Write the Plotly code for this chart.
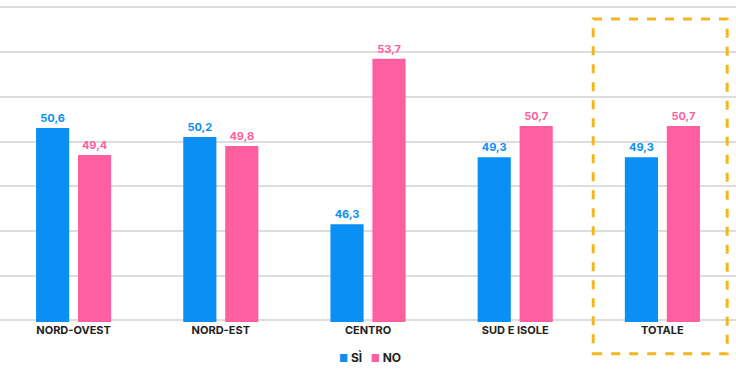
import plotly.graph_objects as go

categories = ["NORD-OVEST", "NORD-EST", "CENTRO", "SUD E ISOLE", "TOTALE"]
si_values = [50.6, 50.2, 46.3, 49.3, 49.3]
no_values = [49.4, 49.8, 53.7, 50.7, 50.7]
series_names = ["SÌ", "NO"]
grid_values = [42, 44, 46, 48, 50, 52, 54, 56]

BLUE = "#0A90F5"
PINK = "#FF5FA0"
FONT = "Inter"

fig = go.Figure()
fig.add_trace(go.Bar(
    x=categories, y=si_values, name=series_names[0],
    marker=dict(color=BLUE, line=dict(width=0)),
    texttemplate="%{y:.1f}", textposition="outside",
    textfont=dict(color=BLUE, size=11, family=FONT, weight="bold"),
    cliponaxis=False,
))
fig.add_trace(go.Bar(
    x=categories, y=no_values, name=series_names[1],
    marker=dict(color=PINK, line=dict(width=0)),
    texttemplate="%{y:.1f}", textposition="outside",
    textfont=dict(color=PINK, size=11, family=FONT, weight="bold"),
    cliponaxis=False,
))

fig.add_shape(
    type="rect", xref="paper", yref="paper",
    x0=0.806, x1=0.988, y0=-0.1, y1=0.953,
    line=dict(color="#F5B51E", width=3, dash="dash"),
    fillcolor="rgba(0,0,0,0)", layer="above",
)

legend_text = (
    f"<span style='color:{BLUE};font-size:10px'>■</span> {series_names[0]}"
    f"&nbsp;&nbsp;&nbsp;<span style='color:{PINK};font-size:10px'>■</span> {series_names[1]}"
)
fig.add_annotation(
    text=legend_text, xref="paper", yref="paper", x=0.503, y=-0.112,
    xanchor="center", yanchor="middle", showarrow=False,
    font=dict(size=12, family=FONT, color="#222222", weight="bold"),
)

fig.update_layout(
    width=736, height=373,
    margin=dict(l=0, r=0, t=4, b=51),
    paper_bgcolor="white", plot_bgcolor="white",
    barmode="group", bargap=0.43, bargroupgap=0.21,
    separators=",.",
    font=dict(family=FONT, color="#222222"),
    showlegend=False,
    xaxis=dict(
        showgrid=False, showline=False, zeroline=False, ticks="",
        tickfont=dict(size=11, family=FONT, color="#222222", weight="bold"),
    ),
    yaxis=dict(
        range=[41.93, 56.15], tickvals=grid_values,
        showticklabels=False,
        showgrid=True, gridcolor="#DDDDDD", gridwidth=1.5,
        zeroline=False, showline=False, ticks="",
    ),
)

fig.write_html(
    "out.html",
    config={"displayModeBar": False},
    post_script="document.body.style.margin='0';document.body.style.padding='0';",
)
